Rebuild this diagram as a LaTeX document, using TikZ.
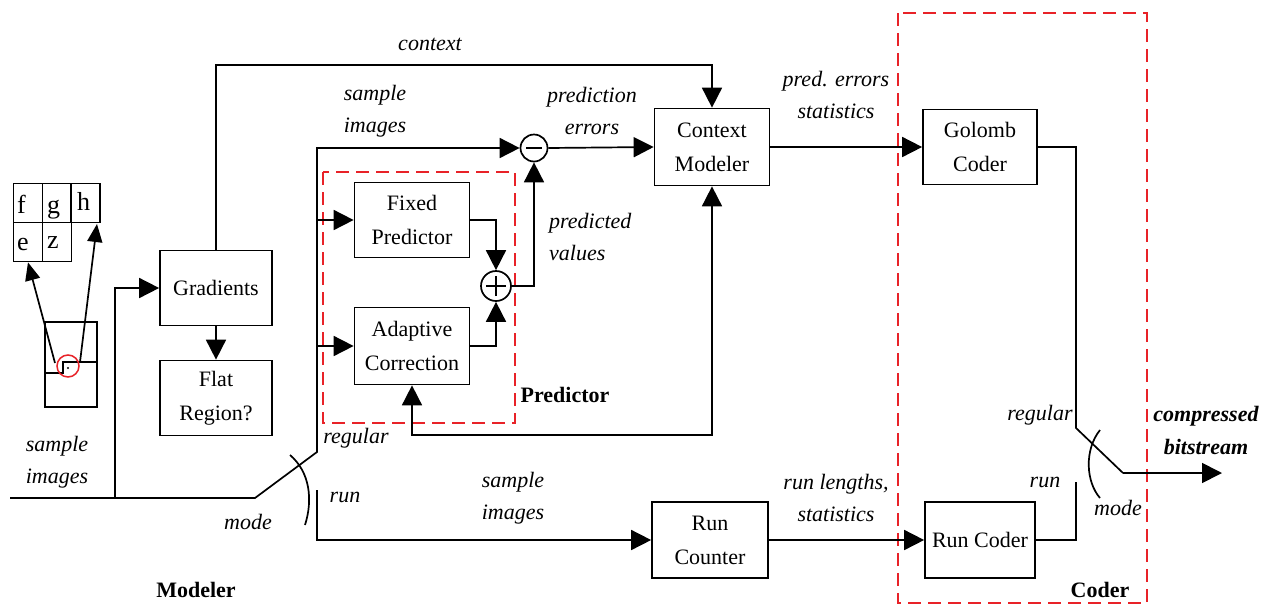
\documentclass[tikz,border=0pt]{standalone}
\usepackage{fontspec}
\setmainfont{Liberation Serif}
\usetikzlibrary{arrows.meta}
\definecolor{dred}{HTML}{E82228}
\tikzset{
  base/.style={line width=1.7pt},
  arr/.style={base,-{Triangle[length=20pt,width=20pt]}},
  arrs/.style={base,-{Triangle[length=18pt,width=15pt]}},
  arrboth/.style={base,{Triangle[length=20pt,width=20pt]}-{Triangle[length=20pt,width=20pt]}},
  box/.style={draw,line width=1.7pt,inner sep=0pt,align=center,font=\fontsize{22}{34}\selectfont},
  lab/.style={inner sep=0pt,align=center,font=\fontsize{22}{32}\selectfont\itshape},
  blab/.style={inner sep=0pt,align=center,font=\fontsize{22}{32}\selectfont\bfseries},
  cell/.style={draw,line width=1.7pt,inner sep=0pt,minimum width=29pt,minimum height=39pt},
  letter/.style={inner sep=0pt,anchor=base west,font=\fontsize{26}{28}\selectfont},
  grp/.style={draw=dred,line width=2.4pt,dash pattern=on 13pt off 7pt},
  sumc/.style={draw,circle,line width=1.7pt,inner sep=0pt},
}
\begin{document}
\begin{tikzpicture}[x=1pt,y=-1pt]
\useasboundingbox (0,0) rectangle (1270,606);
% group boxes
\draw[grp] (323,172) rectangle (515,423);
\draw[grp] (898,13) rectangle (1147,603);
% pixel neighbourhood
\node[cell] (cf) at (28,203) {};
\node[cell] (cg) at (57,203) {};
\node[cell] (ch) at (85.5,203) {};
\node[cell] (ce) at (28,242) {};
\node[cell] (cz) at (57,242) {};
\node[letter] (tf) at (17,213) {f};
\node[letter] (tg) at (47,213) {g};
\node[letter] (th) at (77,210) {h};
\node[letter] (te) at (17,250) {e};
\node[letter] (tz) at (47,248) {z};
\node[draw,line width=1.7pt,minimum width=52pt,minimum height=85pt,inner sep=0pt] (pix) at (71,364.5) {};
\draw[base] (45,373) -- (63,373) -- (63,362) -- (97,362);
\node[draw=dred,circle,line width=1.5pt,minimum size=22pt,inner sep=0pt] (rc) at (68,366) {};
\fill (68,368) circle (1.2pt);
\coordinate (a1) at (55,363);
\coordinate (a2) at (80,362);
\coordinate (hT) at (97,224);
\draw[arrs] (a1) -- (ce.south);
\draw[arrs] (a2) -- (hT);
% blocks
\node[box,minimum width=112pt,minimum height=75pt] (grad) at (216,288) {Gradients};
\node[box,minimum width=112pt,minimum height=75pt] (flat) at (216,398) {Flat\\Region?};
\node[box,minimum width=115pt,minimum height=75pt] (fix) at (412,220) {Fixed\\Predictor};
\node[box,minimum width=115pt,minimum height=77pt] (adp) at (412,346) {Adaptive\\Correction};
\node[box,minimum width=115pt,minimum height=77pt] (cm) at (712,147) {Context\\Modeler};
\node[box,minimum width=114pt,minimum height=75pt] (gol) at (980,147) {Golomb\\Coder};
\node[box,minimum width=116pt,minimum height=76pt] (rcnt) at (710,540) {Run\\Counter};
\node[box,minimum width=110pt,minimum height=76pt] (rcod) at (980,540) {Run Coder};
\node[sumc,minimum size=30pt,path picture={\draw[line width=1.4pt] ([xshift=-10pt]path picture bounding box.center) -- ([xshift=10pt]path picture bounding box.center); \draw[line width=1.4pt] ([yshift=-10pt]path picture bounding box.center) -- ([yshift=10pt]path picture bounding box.center);}] (plus) at (496,286) {};
\node[sumc,minimum size=27pt,path picture={\draw[line width=1.4pt] ([xshift=-8pt]path picture bounding box.center) -- ([xshift=8pt]path picture bounding box.center);}] (sub) at (534,148) {};
% coordinates
\coordinate (sIn) at (10,498);
\coordinate (sJ) at (115,498);
\coordinate (mS) at (255,498);
\coordinate (mE) at (317,452);
\coordinate (runTop) at (317,490);
\coordinate (ctxL) at (216,65);
\coordinate (fbR) at (712,435);
\coordinate (gReg) at (1076,428);
\coordinate (gOut) at (1123,473);
\coordinate (gEnd) at (1222,473);
\coordinate (rTop) at (1076,482);
% connectors
\draw[arr] (sIn) -- (mS) -- (mE) |- (sub.west);
\draw[arr] (sJ) |- (grad.west);
\draw[arr] (fix.west -| mE) -- (fix.west);
\draw[arr] (adp.west -| mE) -- (adp.west);
\draw[arr] (grad.south) -- (flat.north);
\draw[arr] (grad.north) -- (ctxL) -| (cm.north);
\draw[arr] (runTop) |- (rcnt.west);
\draw[base] (290,455) .. controls (310,472) and (313,500) .. (305,525);
\draw[arr] (fix.east) -| (plus.north);
\draw[arr] (adp.east) -| (plus.south);
\draw[arr] (plus.east) -| (sub.south);
\draw[arr] (sub.east) -- (cm.west);
\draw[arrboth] (adp.south) |- (fbR) -- (cm.south);
\draw[arr] (cm.east) -- (gol.west);
\draw[base] (gol.east) -| (gReg) -- (gOut);
\draw[arr] (gOut) -- (gEnd);
\draw[base] (rcod.east) -| (rTop);
\draw[base] (1100,430) .. controls (1084,450) and (1086,482) .. (1100,498);
\draw[arr] (rcnt.east) -- (rcod.west);
% labels
\node[lab] (lctx) at (430,44) {context};
\node[lab] (lsi1) at (375,111) {sample\\images};
\node[lab] (lpe) at (592,111) {prediction\\errors};
\node[lab] (lpes) at (836,95) {pred. errors\\statistics};
\node[lab,align=left,anchor=west] (lpv) at (549,237) {predicted\\values};
\node[lab] (lsi0) at (57,462) {sample\\images};
\node[lab] (lreg) at (356,438) {regular};
\node[lab] (lrun) at (345,497) {run};
\node[lab] (lmode) at (248,522) {mode};
\node[lab] (lsi2) at (513,498) {sample\\images};
\node[lab] (lrl) at (836,498) {run lengths,\\statistics};
\node[lab] (lreg2) at (1040,415) {regular};
\node[lab] (lrun2) at (1045,482) {run};
\node[lab] (lmode2) at (1118,508) {mode};
\node[lab,font=\fontsize{22}{33}\selectfont\bfseries\itshape] (lcb) at (1206,430) {compressed\\bitstream};
\node[blab] (lpred) at (565,395) {Predictor};
\node[blab] (lmod) at (196,590) {Modeler};
\node[blab] (lcod) at (1100,590) {Coder};
\end{tikzpicture}
\end{document}
